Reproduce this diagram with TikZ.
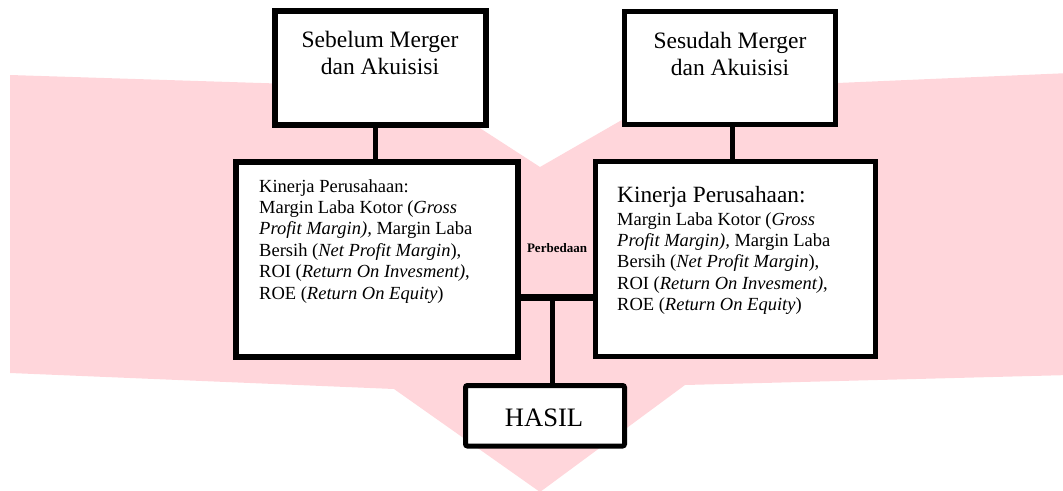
\documentclass[tikz,border=0pt]{standalone}
\usepackage{fontspec}
\setmainfont{Liberation Serif}
\definecolor{wm}{RGB}{255,214,219}
\begin{document}
\begin{tikzpicture}[x=1pt,y=-1pt,
  frame/.style={draw=black, fill=white, inner sep=0pt, line width=#1},
  conn/.style={draw=black, line width=#1},
  txt/.style={inner sep=0pt, text=black}]
\useasboundingbox (0,0) rectangle (1063,490);
\begin{scope}
\clip (0,0) rectangle (1063,490);
\fill[wm] (10,75) -- (418,88) -- (540,167) -- (674,90) -- (1070,73) -- (1070,375) -- (685,385) -- (540,492) -- (394,389) -- (10,373) -- cycle;
\end{scope}
% boxes
\node[frame=6, minimum width=211pt, minimum height=114pt] (sb) at (380,68) {};
\node[frame=5, minimum width=211pt, minimum height=113pt] (ss) at (730,68) {};
\node[frame=6, minimum width=282pt, minimum height=195.5pt] (kl) at (377,259.25) {};
\node[frame=5, minimum width=279.5pt, minimum height=195pt] (kr) at (735.25,259) {};
\node[frame=5, rounded corners=2pt, minimum width=159pt, minimum height=60.5pt] (hs) at (545,415.75) {};
% connectors
\coordinate (ca) at (375,0);
\coordinate (cb) at (732,0);
\coordinate (hj) at (552,297);
\draw[conn=5] (sb.south -| ca) -- (kl.north -| ca);
\draw[conn=5] (ss.south -| cb) -- (kr.north -| cb);
\draw[conn=7] (kl.east |- hj) -- (kr.west |- hj);
\draw[conn=5] (hj) -- (hs.north -| hj);
% texts
\node[txt, anchor=base] (tsb) at (380,47) {\fontsize{23.5}{27}\selectfont\begin{tabular}[t]{@{}c@{}}Sebelum Merger\\dan Akuisisi\end{tabular}};
\node[txt, anchor=base] (tss) at (730,48) {\fontsize{23.5}{27}\selectfont\begin{tabular}[t]{@{}c@{}}Sesudah Merger\\dan Akuisisi\end{tabular}};
\node[txt, anchor=base west] (tkl) at (259,192) {\fontsize{18.5}{21.4}\selectfont\begin{tabular}[t]{@{}l@{}}Kinerja Perusahaan:\\ Margin Laba Kotor (\textit{Gross}\\ \textit{Profit Margin),} Margin Laba\\ Bersih (\textit{Net Profit Margin}),\\ ROI (\textit{Return On Invesment)},\\ ROE (\textit{Return On Equity})\end{tabular}};
\node[txt, anchor=base west] (tkr) at (617,202) {\fontsize{18.5}{21.4}\selectfont\begin{tabular}[t]{@{}l@{}}{\fontsize{23.3}{26}\selectfont Kinerja Perusahaan:}\\[1.6pt] Margin Laba Kotor (\textit{Gross}\\ \textit{Profit Margin),} Margin Laba\\ Bersih (\textit{Net Profit Margin}),\\ ROI (\textit{Return On Invesment)},\\ ROE (\textit{Return On Equity})\end{tabular}};
\node[txt] (tpb) at (557,248) {\fontsize{13}{15}\selectfont\bfseries Perbedaan};
\node[txt, anchor=base] (ths) at (544,426) {\fontsize{26.6}{30}\selectfont HASIL};
\end{tikzpicture}
\end{document}
